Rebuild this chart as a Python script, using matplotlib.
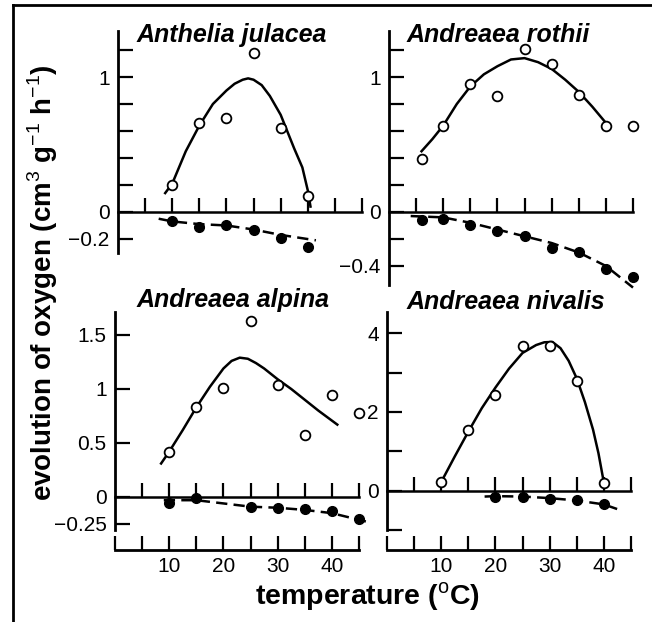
import numpy as np
import matplotlib
matplotlib.use("Agg")
import matplotlib.pyplot as plt
from matplotlib.lines import Line2D

# ---- data ----
# Anthelia julacea
anth_temp = [10, 15, 20, 25, 30, 35]
anth_photo = [0.20, 0.66, 0.70, 1.18, 0.62, 0.12]
anth_resp = [-0.07, -0.11, -0.10, -0.13, -0.19, -0.26]
anth_fit_t = [8.7, 10, 12.5, 15, 17.5, 20, 21.5, 23, 24, 25, 26.5, 28, 30, 32.5, 34, 35, 35.5]
anth_fit = [0.14, 0.21, 0.45, 0.64, 0.80, 0.90, 0.95, 0.98, 0.99, 0.98, 0.94, 0.86, 0.72, 0.47, 0.33, 0.16, 0.04]
anth_rfit_t = [7.5, 10, 15, 20, 25, 30, 36.5]
anth_rfit = [-0.05, -0.07, -0.09, -0.10, -0.13, -0.17, -0.21]

# Andreaea rothii
roth_temp = [6, 10, 15, 20, 25, 30, 35, 40, 45]
roth_photo = [0.39, 0.64, 0.95, 0.86, 1.21, 1.10, 0.87, 0.64, 0.64]
roth_resp = [-0.06, -0.05, -0.10, -0.14, -0.18, -0.27, -0.30, -0.42, -0.48]
roth_fit_t = [6, 8, 10, 12.5, 15, 17.5, 20, 22.5, 25, 27.5, 30, 32.5, 35, 37.5, 40]
roth_fit = [0.45, 0.54, 0.64, 0.80, 0.93, 1.02, 1.08, 1.13, 1.14, 1.11, 1.06, 0.98, 0.89, 0.78, 0.66]
roth_rfit_t = [4, 10, 15, 20, 25, 30, 35, 40, 45]
roth_rfit = [-0.03, -0.04, -0.08, -0.13, -0.18, -0.23, -0.30, -0.40, -0.56]

# Andreaea alpina
alp_temp = [10, 15, 20, 25, 30, 35, 40, 45]
alp_photo = [0.42, 0.83, 1.01, 1.63, 1.04, 0.57, 0.94, 0.78]
alp_resp_t = [10, 15, 25, 30, 35, 40, 45]
alp_resp = [-0.06, -0.01, -0.09, -0.10, -0.11, -0.13, -0.20]
alp_fit_t = [8.5, 10, 12.5, 15, 17.5, 20, 21.5, 23, 24.5, 26, 27.5, 30, 32.5, 35, 37.5, 41]
alp_fit = [0.31, 0.42, 0.62, 0.83, 1.02, 1.19, 1.26, 1.29, 1.28, 1.24, 1.19, 1.09, 1.00, 0.90, 0.80, 0.67]
alp_rfit_t = [9, 15, 20, 25, 30, 35, 40, 46.5]
alp_rfit = [-0.03, -0.03, -0.06, -0.09, -0.10, -0.12, -0.15, -0.23]

# Andreaea nivalis
niv_temp = [10, 15, 20, 25, 30, 35, 40]
niv_photo = [0.22, 1.53, 2.44, 3.68, 3.68, 2.79, 0.20]
niv_resp_t = [20, 25, 30, 35, 40]
niv_resp = [-0.15, -0.15, -0.20, -0.24, -0.35]
niv_fit_t = [10, 12.5, 15, 17.5, 20, 22.5, 25, 27.5, 29, 30.5, 32, 33.5, 35, 36.5, 38, 39, 40]
niv_fit = [0.22, 0.87, 1.50, 2.10, 2.62, 3.10, 3.50, 3.70, 3.77, 3.78, 3.62, 3.30, 2.85, 2.25, 1.55, 0.95, 0.20]
niv_rfit_t = [18, 20, 25, 30, 35, 40, 42.5]
niv_rfit = [-0.15, -0.14, -0.15, -0.19, -0.25, -0.35, -0.47]

W, H = 652, 622
plt.rcParams["font.family"] = ["Liberation Sans", "DejaVu Sans"]
plt.rcParams["mathtext.fontset"] = "custom"
plt.rcParams["mathtext.rm"] = "Liberation Sans"
plt.rcParams["mathtext.bf"] = "Liberation Sans:bold"

fig = plt.figure(figsize=(W / 100, H / 100), dpi=100)


def px_axes(x0, x1, ytop, ybot):
    return fig.add_axes([x0 / W, 1 - ybot / H, (x1 - x0) / W, (ybot - ytop) / H])


def draw_panel(ax, title, title_xy, ylim, yticks, ylabels, bottom_axis,
               temp, photo, resp_t, resp, fit_t, fit, rfit_t, rfit):
    ax.set_xlim(0, 45)
    ax.set_ylim(*ylim)
    ax.patch.set_visible(False)
    for s in ["top", "right"]:
        ax.spines[s].set_visible(False)
    ax.spines["left"].set_linewidth(2)
    ax.set_yticks(yticks)
    ax.set_yticklabels(ylabels)
    ax.tick_params(axis="y", direction="in", length=11, width=1.6, pad=6, labelsize=15)
    if bottom_axis:
        ax.spines["bottom"].set_position(("outward", 14.4))
        ax.spines["bottom"].set_linewidth(2)
        ax.set_xticks(np.arange(0, 46, 5))
        ax.set_xticklabels(["", "", "10", "", "20", "", "30", "", "40", ""])
        ax.tick_params(axis="x", direction="in", length=10, width=1.6, pad=5, labelsize=15)
    else:
        ax.spines["bottom"].set_visible(False)
        ax.set_xticks([])
    # zero line with upward ticks
    ax.axhline(0, color="k", lw=1.8, clip_on=False)
    zt = np.arange(5, 46, 5)
    ax.plot(zt, np.zeros(len(zt)), ls="none", marker=2, ms=10, mew=1.6,
            color="k", clip_on=False)
    ax.plot(fit_t, fit, color="k", lw=1.8, clip_on=False, zorder=3,
            solid_joinstyle="round")
    ax.plot(rfit_t, rfit, color="k", lw=1.8, ls=(0, (4.5, 2.5)), clip_on=False, zorder=3)
    ax.plot(temp, photo, ls="none", marker="o", ms=7, mfc="white", mec="k",
            mew=1.3, clip_on=False, zorder=4)
    ax.plot(resp_t, resp, ls="none", marker="o", ms=7, color="k",
            clip_on=False, zorder=4)
    fig.text(title_xy[0] / W, 1 - title_xy[1] / H, title, fontsize=18,
             fontweight="bold", fontstyle="italic", ha="left", va="center")


ax1 = px_axes(118, 362, 31, 253)
draw_panel(ax1, "Anthelia julacea", (137, 35), (-0.304, 1.341),
           [-0.2, 0, 0.2, 0.4, 0.6, 0.8, 1.0, 1.2],
           ["\u22120.2", "0", "", "", "", "", "1", ""], False,
           anth_temp, anth_photo, anth_temp, anth_resp,
           anth_fit_t, anth_fit, anth_rfit_t, anth_rfit)

ax2 = px_axes(389, 633, 31, 285)
draw_panel(ax2, "Andreaea rothii", (407, 35), (-0.541, 1.341),
           [-0.4, -0.2, 0, 0.2, 0.4, 0.6, 0.8, 1.0, 1.2],
           ["\u22120.4", "", "0", "", "", "", "", "1", ""], False,
           roth_temp, roth_photo, roth_temp, roth_resp,
           roth_fit_t, roth_fit, roth_rfit_t, roth_rfit)

ax3 = px_axes(115, 359, 312, 530)
draw_panel(ax3, "Andreaea alpina", (137, 300), (-0.306, 1.713),
           [-0.25, 0, 0.5, 1.0, 1.5],
           ["\u22120.25", "0", "0.5", "1", "1.5"], True,
           alp_temp, alp_photo, alp_resp_t, alp_resp,
           alp_fit_t, alp_fit, alp_rfit_t, alp_rfit)

ax4 = px_axes(387, 631, 312, 530)
draw_panel(ax4, "Andreaea nivalis", (407, 302), (-0.84, 4.54),
           [-1, 0, 1, 2, 3, 4],
           ["", "0", "", "2", "", "4"], True,
           niv_temp, niv_photo, niv_resp_t, niv_resp,
           niv_fit_t, niv_fit, niv_rfit_t, niv_rfit)

fig.text(43 / W, 1 - 283 / H,
         r"evolution of oxygen (cm$^{3}$ g$^{-1}$ h$^{-1}$)",
         rotation=90, fontsize=20, fontweight="bold", ha="center", va="center")
fig.text(368 / W, 1 - 597 / H, r"temperature ($^{\rm o}$C)",
         fontsize=20.5, fontweight="bold", ha="center", va="center")

# frame around the whole figure
fig.add_artist(Line2D([13.5 / W, 13.5 / W], [0, 1 - 5 / H], color="k", lw=2,
                      transform=fig.transFigure))
fig.add_artist(Line2D([13 / W, 1], [1 - 5 / H, 1 - 5 / H], color="k", lw=2,
                      transform=fig.transFigure))

fig.savefig("out.png", dpi=100)
